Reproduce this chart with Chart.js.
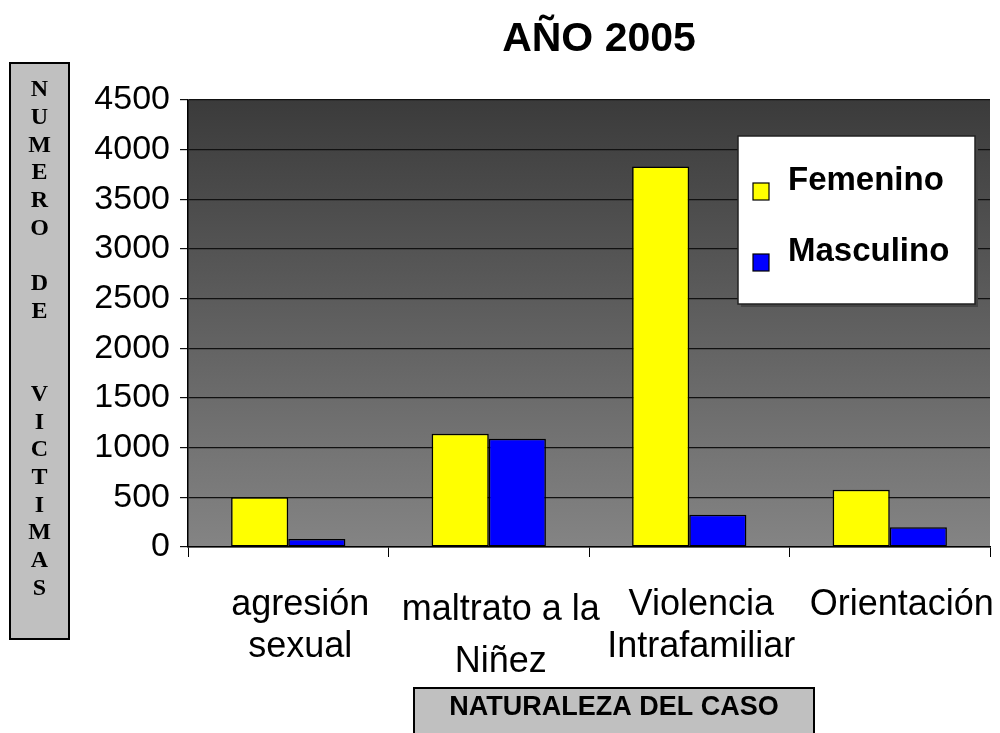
<!DOCTYPE html>
<html>
<head>
<meta charset="utf-8">
<script src="https://cdn.jsdelivr.net/npm/chart.js@4.4.0/dist/chart.umd.min.js"></script>
<style>
body { margin: 0; background: #fff; }
</style>
</head>
<body>
<canvas id="myChart" width="1000" height="733"></canvas>
<script>
var categorias = [["agresión", "sexual"], ["maltrato a la", "Niñez"], ["Violencia", "Intrafamiliar"], "Orientación"];
var femenino = [500, 1140, 3830, 577];
var masculino = [80, 1090, 325, 198];
var ticksY = [0, 500, 1000, 1500, 2000, 2500, 3000, 3500, 4000, 4500];
var titulo = "AÑO 2005";
var tituloY = ["N", "U", "M", "E", "R", "O", "", "D", "E", "", "", "V", "I", "C", "T", "I", "M", "A", "S"];
var tituloX = "NATURALEZA DEL CASO";

var fuente = "'Liberation Sans', Arial, sans-serif";

// fondo degradado del area de trazado
var fondo = {
    id: 'fondo',
    beforeDraw: function (chart) {
        var a = chart.chartArea, c = chart.ctx;
        var g = c.createLinearGradient(0, a.top, 0, a.bottom);
        g.addColorStop(0, "#3b3b3b");
        g.addColorStop(1, "#848484");
        c.save();
        c.fillStyle = g;
        c.fillRect(a.left, a.top, a.right - a.left, a.bottom - a.top);
        c.restore();
    }
};

// titulo, cajas de ejes y leyenda
var extras = {
    id: 'extras',
    afterDraw: function (chart) {
        var c = chart.ctx;
        c.save();
        c.fillStyle = "#000";
        c.textAlign = "center";
        c.textBaseline = "middle";
        c.font = "bold 41px " + fuente;
        c.fillText(titulo, 599, 40);

        // caja eje Y
        c.fillStyle = "#c0c0c0";
        c.fillRect(10, 63, 59, 576);
        c.strokeStyle = "#000";
        c.lineWidth = 2;
        c.strokeRect(10, 63, 59, 576);
        c.fillStyle = "#000";
        c.font = "bold 24px 'Liberation Serif', 'Times New Roman', serif";
        tituloY.forEach(function (l, i) {
            c.fillText(l, 39.5, 90 + i * 27.7);
        });

        // caja eje X
        c.fillStyle = "#c0c0c0";
        c.fillRect(414, 688, 400, 60);
        c.strokeRect(414, 688, 400, 60);
        c.fillStyle = "#000";
        c.font = "bold 27px " + fuente;
        c.fillText(tituloX, 614, 708);

        // leyenda
        c.fillStyle = "#444";
        c.fillRect(741, 139, 237, 168);
        c.fillStyle = "#fff";
        c.fillRect(738, 136, 237, 168);
        c.strokeStyle = "#222";
        c.lineWidth = 1.5;
        c.strokeRect(738, 136, 237, 168);
        c.textAlign = "left";
        c.font = "bold 33px " + fuente;
        var ys = [192, 263];
        chart.data.datasets.forEach(function (ds, i) {
            c.fillStyle = ds.backgroundColor;
            c.fillRect(753, ys[i] - 9, 16, 17);
            c.strokeStyle = "#000";
            c.lineWidth = 1.2;
            c.strokeRect(753, ys[i] - 9, 16, 17);
            c.fillStyle = "#000";
            c.fillText(ds.label, 788, ys[i] - 11);
        });
        c.restore();
    }
};

var ctx = document.getElementById("myChart");

var myChart = new Chart(ctx, {
    type: 'bar',
    data: {
        labels: categorias,
        datasets: [
            {
                label: "Femenino",
                data: femenino,
                backgroundColor: "#ffff00",
                borderColor: "#000",
                borderWidth: 1.5,
                borderSkipped: false
            },
            {
                label: "Masculino",
                data: masculino,
                backgroundColor: "#0000ff",
                borderColor: "#000",
                borderWidth: 1.5,
                borderSkipped: false
            }
        ]
    },
    plugins: [fondo, extras],
    options: {
        responsive: false,
        animation: false,
        layout: {
            padding: { top: 100, right: 10, left: 0, bottom: 0 }
        },
        datasets: {
            bar: { categoryPercentage: 0.57, barPercentage: 1.0 }
        },
        plugins: {
            legend: { display: false },
            title: { display: false },
            tooltip: { enabled: false }
        },
        scales: {
            x: {
                afterFit: function (s) {
                    s.height = 186;
                    s.paddingLeft = 0;
                    s.paddingRight = 0;
                },
                grid: {
                    drawOnChartArea: false,
                    drawTicks: true,
                    tickLength: 10,
                    color: "#000"
                },
                border: { color: "#000", width: 1.5 },
                ticks: {
                    color: "#000",
                    padding: 27,
                    labelOffset: 12,
                    maxRotation: 0,
                    autoSkip: false,
                    // "Niñez" queda mas abajo en el original
                    font: function (c) {
                        return { family: fuente, size: 36, lineHeight: c.index === 1 ? 1.44 : 1.167 };
                    }
                }
            },
            y: {
                min: 0,
                max: 4500,
                afterFit: function (s) { s.width = 188; },
                afterBuildTicks: function (s) {
                    s.ticks = ticksY.map(function (v) { return { value: v }; });
                },
                grid: {
                    color: "#111",
                    lineWidth: 1.2,
                    tickLength: 8
                },
                border: { color: "#000", width: 1.5 },
                ticks: {
                    color: "#000",
                    padding: 10,
                    callback: function (v) { return String(v); },
                    font: { family: fuente, size: 34 }
                }
            }
        }
    }
});
</script>
</body>
</html>
